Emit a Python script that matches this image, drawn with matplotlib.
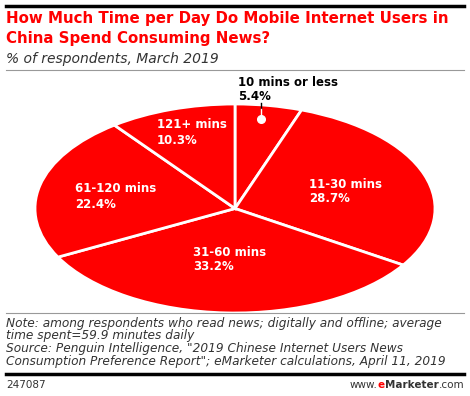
import matplotlib.pyplot as plt
from matplotlib.lines import Line2D

# chart data
labels = ['10 mins or less', '11-30 mins', '31-60 mins', '61-120 mins', '121+ mins']
values = [5.4, 28.7, 33.2, 22.4, 10.3]

RED = '#ff0000'
W, H = 470, 396

def fx(x):
    return x / W

def fy(y):
    return 1 - y / H

fig = plt.figure(figsize=(4.7, 3.96), dpi=100)
fig.patch.set_facecolor('white')

# pie squashed into an ellipse
ax = fig.add_axes([fx(35), fy(313), 400 / W, 209 / H])
wedges, _ = ax.pie(values, startangle=90, counterclock=False, colors=[RED] * len(values),
                   wedgeprops=dict(edgecolor='white', linewidth=2))
ax.set_aspect('auto')
ax.set_xlim(-1.0, 1.0)
ax.set_ylim(-1.0, 1.0)
ax.axis('off')

# slice labels (pixel positions of first line)
label_pos = {1: (309, 184), 2: (193, 252), 3: (75, 189), 4: (157, 125)}
FS = 8.5
for i, (x, y) in label_pos.items():
    fig.text(fx(x), fy(y), labels[i], color='white', fontsize=FS, fontweight='bold',
             va='center', ha='left')
    fig.text(fx(x), fy(y + 15), f'{values[i]:.1f}%', color='white', fontsize=FS,
             fontweight='bold', va='center', ha='left')

# small slice label outside with leader
fig.text(fx(238), fy(82), labels[0], color='black', fontsize=FS, fontweight='bold',
         va='center', ha='left')
fig.text(fx(238), fy(96), f'{values[0]:.1f}%', color='black', fontsize=FS,
         fontweight='bold', va='center', ha='left')
fig.add_artist(Line2D([fx(261), fx(261)], [fy(103), fy(109)], color='black', lw=1))
fig.add_artist(Line2D([fx(261), fx(261)], [fy(109), fy(119)], color='white', lw=1))
fig.add_artist(Line2D([fx(261)], [fy(119)], marker='o', markersize=5.5, color='white'))

# header
fig.add_artist(Line2D([fx(6), fx(464)], [fy(6), fy(6)], color='black', lw=2.5))
fig.text(fx(6), fy(19), 'How Much Time per Day Do Mobile Internet Users in',
         color=RED, fontsize=10.8, fontweight='bold', va='center', ha='left')
fig.text(fx(6), fy(38), 'China Spend Consuming News?',
         color=RED, fontsize=10.8, fontweight='bold', va='center', ha='left')
fig.text(fx(6), fy(59), '% of respondents, March 2019',
         color='#333333', fontsize=10, fontstyle='italic', va='center', ha='left')
fig.add_artist(Line2D([fx(6), fx(464)], [fy(70), fy(70)], color='#999999', lw=0.8))

# footer
fig.add_artist(Line2D([fx(6), fx(464)], [fy(313), fy(313)], color='#999999', lw=0.8))
notes = ['Note: among respondents who read news; digitally and offline; average',
         'time spent=59.9 minutes daily',
         'Source: Penguin Intelligence, "2019 Chinese Internet Users News',
         'Consumption Preference Report"; eMarketer calculations, April 11, 2019']
for k, line in enumerate(notes):
    fig.text(fx(6), fy(323 + k * 12.8), line, color='#333333', fontsize=8.7,
             fontstyle='italic', va='center', ha='left')
fig.add_artist(Line2D([fx(6), fx(464)], [fy(374), fy(374)], color='black', lw=2.5))
fig.text(fx(6), fy(385), '247087', color='#333333', fontsize=7.5, va='center', ha='left')

# www.eMarketer.com, right aligned
r = fig.canvas.get_renderer()
parts = [('www.', '#333333', 'normal'), ('e', RED, 'bold'),
         ('Marketer', '#333333', 'bold'), ('.com', '#333333', 'normal')]
x = fx(464)
for txt, col, wt in reversed(parts):
    t = fig.text(x, fy(385), txt, color=col, fontsize=7.5, fontweight=wt,
                 va='center', ha='right')
    x -= t.get_window_extent(r).width / W

fig.savefig('out.png', dpi=100)
